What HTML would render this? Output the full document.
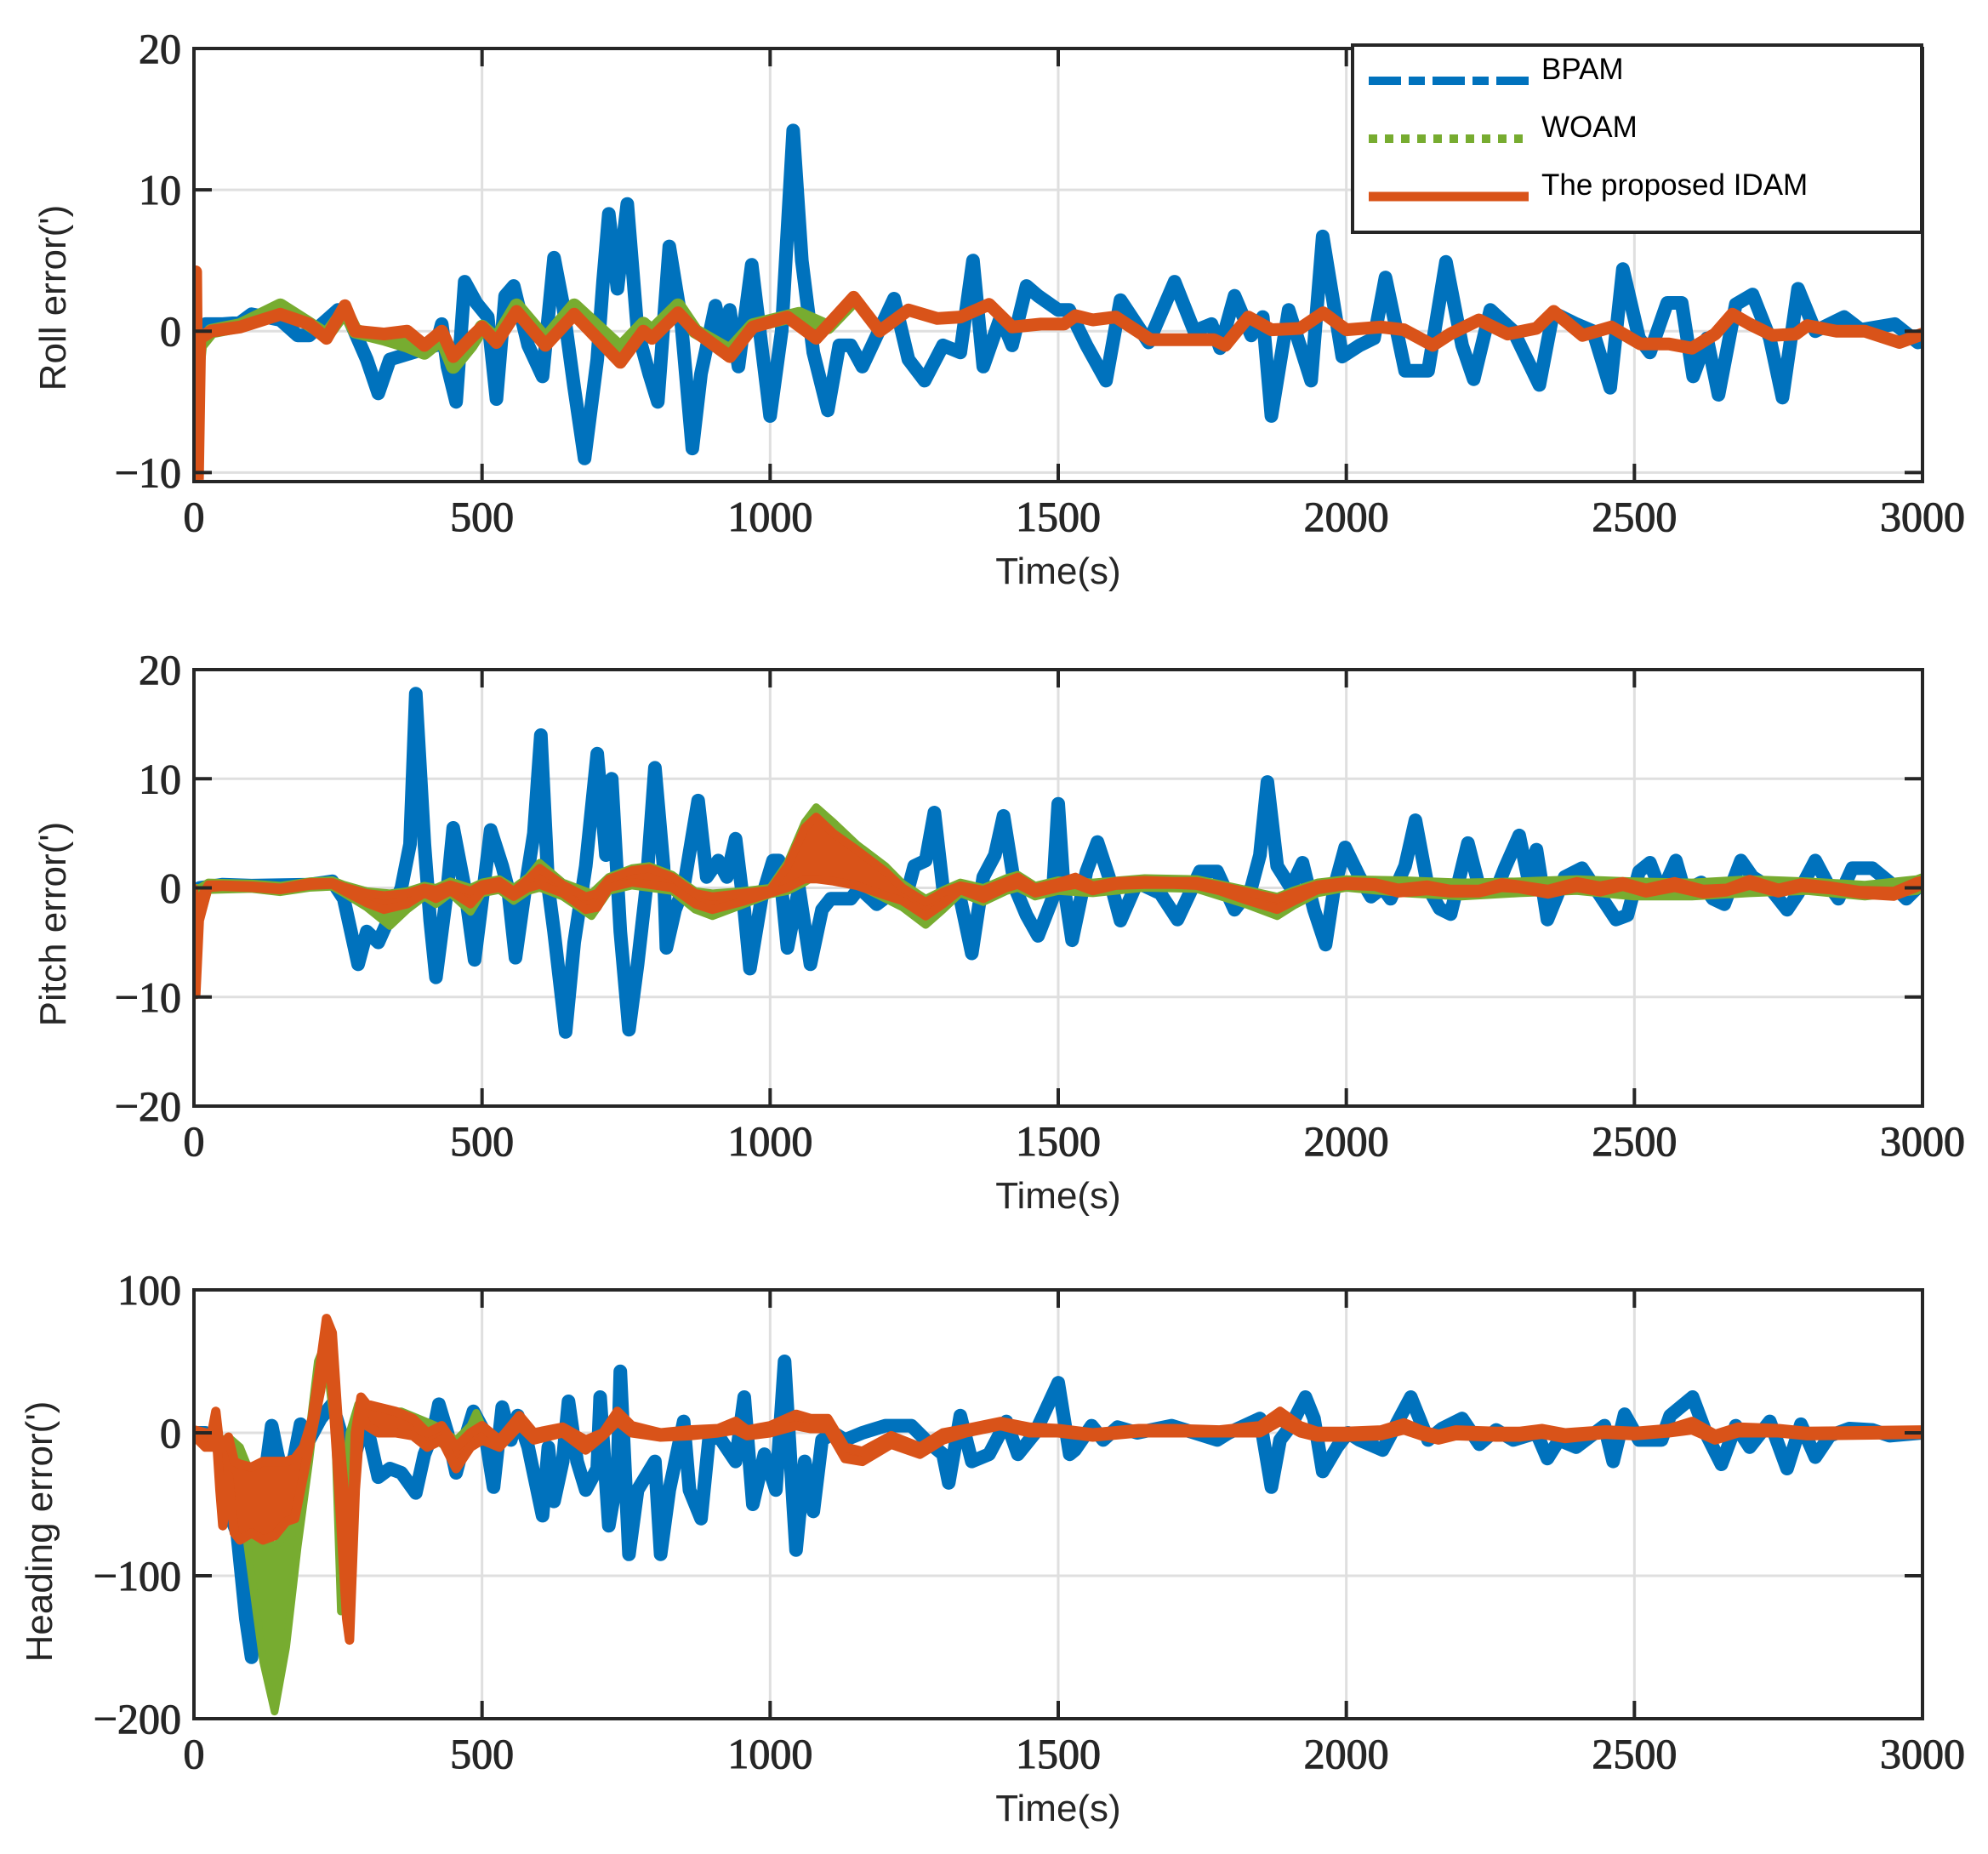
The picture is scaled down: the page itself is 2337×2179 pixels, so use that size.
<!DOCTYPE html>
<html><head><meta charset="utf-8"><style>
html,body{margin:0;padding:0;background:#fff;}
svg{display:block;}
</style></head><body>
<svg id="fig" width="2337" height="2179" viewBox="0 0 2337 2179" xmlns="http://www.w3.org/2000/svg"></svg>
<script>
// ===== Roll panel data =====
const rollBpamT=[0,20,50,80,100,150,180,200,250,270,300,320,340,380,420,430,440,455,470,490,510,525,540,555,580,605,625,640,660,678,700,710,720,735,752,770,790,805,825,845,865,880,905,920,930,945,968,985,1000,1020,1040,1055,1075,1100,1120,1140,1160,1215,1240,1268,1300,1330,1352,1370,1400,1420,1445,1465,1500,1519,1549,1583,1608,1657,1702,1736,1766,1781,1806,1835,1855,1870,1900,1939,1959,1993,2023,2048,2068,2102,2142,2173,2201,2221,2250,2290,2335,2359,2399,2428,2458,2480,2508,2527,2557,2582,2602,2626,2646,2676,2705,2735,2757,2784,2814,2864,2893,2952,2992,3000];
const rollBpam=[0,0.5,0.5,0.6,1.2,0.8,-0.3,-0.3,1.5,0.8,-2,-4.4,-2,-1.5,-1,0.5,-2.5,-5,3.5,2,1,-4.8,2.5,3.2,-1,-3.2,5.2,2,-4,-9,-2,3.5,8.3,3,9,0,-3,-5,6,1,-8.3,-3,1.8,-1,1.5,-2.5,4.7,-1,-6,0,14.2,5,-1.5,-5.6,-1,-1,-2.5,2.3,-2,-3.5,-1,-1.5,5,-2.5,1,-1,3.2,2.5,1.5,1.5,-1,-3.5,2.2,-0.8,3.5,0,0.5,-1.2,2.5,-0.3,1,-6,1.5,-3.5,6.7,-1.8,-1,-0.5,3.8,-2.8,-2.8,4.9,-1,-3.4,1.5,0,-3.8,1.3,0.5,0,-4,4.4,-0.5,-1.5,2,2,-3.2,-0.5,-4.5,1.9,2.6,-0.5,-4.7,3,0,1,0.1,0.5,-0.8,-0.5];
const rollWoamT=[0,5,10,30,80,150,200,230,262,280,330,370,400,430,450,480,500,525,560,610,660,740,780,795,840,870,930,970,1050,1100,1145];
const rollWoam=[0,-3,-1,0,0.4,1.8,0.5,-0.3,1.5,0,-0.5,-1,-1.5,-0.5,-2.5,-1,0.3,-0.6,1.8,-0.6,1.8,-1.2,0.5,0,1.8,0,-1.4,0.4,1.2,0.3,2.2];
const rollIdamT=[0,3,6,10,30,80,150,200,230,262,280,330,370,400,430,450,480,500,525,560,610,660,740,780,795,840,870,930,970,1030,1080,1145,1190,1240,1290,1330,1380,1420,1470,1510,1530,1560,1600,1660,1710,1770,1790,1830,1870,1920,1960,2000,2060,2100,2150,2180,2230,2280,2330,2360,2410,2460,2510,2560,2600,2640,2670,2700,2740,2780,2800,2850,2900,2960,3000];
const rollIdam=[0,4.2,-10.5,-0.5,0,0.3,1.2,0.5,-0.5,1.8,0,-0.2,0,-1,0,-1.8,-0.5,0.3,-0.8,1.4,-1,1.2,-2.2,0,-0.5,1.3,0,-1.8,0.3,1,-0.5,2.4,0,1.5,0.9,1,1.9,0.3,0.5,0.5,1.1,0.8,1,-0.6,-0.6,-0.6,-1,1,0.1,0.2,1.3,0.1,0.3,0.1,-1,-0.2,0.8,-0.2,0.2,1.4,-0.3,0.3,-0.9,-0.9,-1.2,-0.2,1.2,0.5,-0.3,-0.2,0.4,0,0,-0.8,-0.2];

// ===== Pitch panel data =====
const pitchBpamT=[0,10,50,100,200,240,260,285,300,320,345,360,375,385,400,410,420,440,450,470,487,505,515,535,545,558,575,590,602,615,625,645,660,680,700,715,725,740,755,770,785,800,815,820,835,850,875,890,910,925,940,955,965,985,1005,1015,1030,1050,1070,1090,1105,1125,1140,1155,1185,1210,1235,1250,1270,1285,1300,1330,1350,1370,1390,1405,1425,1445,1465,1490,1500,1509,1524,1549,1568,1588,1608,1637,1677,1707,1746,1776,1806,1835,1850,1863,1880,1904,1924,1944,1964,1979,1998,2023,2043,2063,2077,2102,2120,2142,2162,2181,2211,2231,2260,2275,2300,2315,2330,2349,2379,2409,2438,2468,2488,2508,2527,2547,2572,2587,2616,2636,2656,2685,2705,2735,2765,2784,2814,2834,2854,2878,2913,2943,2972,3000];
const pitchBpam=[-4,0,0.3,0.2,0.3,0.6,-1,-7,-4,-5,-2,0,4,17.8,4,-3,-8.2,0,5.5,0,-6.6,1,5.3,2,0,-6.4,0,5,14,0,-4,-13.2,-5,2,12.3,3,10,-4,-13,-7,0,11,2,-5.5,-2,0,8,1,2.5,1,4.5,-2,-7.4,-1,2.5,2.5,-5.5,0,-7,-2,-1,-1,-1,0,-1.5,-0.5,-1,2,2.5,6.9,0,-1,-6,1,3,6.6,0,-2.5,-4.4,-1,7.7,0.5,-4.8,1.5,4.2,1,-3,0.5,-0.5,-2.9,1.5,1.5,-2,0,3,9.7,2,0,2.3,-2,-5.2,0,3.7,1,-0.8,0,-1,2,6.2,0,-1.9,-2.4,4.1,0,-0.2,1.8,4.8,1,3.5,-2.9,1,1.8,-0.5,-2.9,-2.5,1.5,2.3,-0.5,2.5,-0.3,0.5,-1,-1.5,2.5,1,0,-2,-0.5,2.5,0.5,-1,1.8,1.8,0.5,-1,0.5];
const pitchWoamT=[0,4,10,25,100,150,200,240,260,300,340,370,400,420,445,480,500,530,555,580,600,640,690,720,760,790,830,870,900,950,1000,1030,1060,1080,1110,1150,1200,1230,1270,1300,1330,1370,1410,1430,1460,1500,1560,1650,1740,1830,1880,1910,1950,2000,2100,2200,2300,2400,2500,2600,2700,2800,2900,2990,3000];
const pitchWoamLo=[-2,-5,-3,-0.2,-0.1,-0.4,0,0.1,-0.5,-1.8,-3.5,-2,-0.8,-1.5,-0.5,-2.2,-0.5,-0.2,-1.2,-0.3,0,-0.8,-2.6,-0.3,0.2,0,-0.3,-2,-2.6,-1.6,-0.6,-0.3,0.5,1.2,0.8,0.3,-1,-1.8,-3.4,-2,-0.5,-1.3,-0.3,0,-0.8,-0.3,-0.5,0,-0.1,-1.6,-2.6,-1.6,-0.5,0,-0.5,-0.8,-0.5,-0.3,-0.8,-0.8,-0.5,-0.3,-0.8,-0.3,0];
const pitchWoamHi=[0,0,0,0.5,0.4,0.2,0.6,0.7,0.3,-0.3,-0.5,-0.3,0.2,0,0.6,0,0.5,0.8,0,1,2.3,0.5,-0.5,1,1.8,2,1.2,-0.3,-0.5,-0.3,0,2.3,6,7.4,6,4,2,0.4,-1,-0.2,0.5,0,0.9,1.2,0.2,0.7,0.5,0.9,0.8,-0.2,-0.8,-0.2,0.5,0.8,0.7,0.5,0.6,0.8,0.6,0.5,0.8,0.6,0.3,0.8,1];
const pitchIdamT=[0,4,10,25,50,100,150,200,240,260,300,330,370,400,420,445,480,500,530,555,580,600,640,680,700,720,760,790,830,870,900,950,1000,1030,1060,1080,1110,1150,1200,1230,1270,1300,1330,1370,1410,1430,1460,1500,1530,1560,1600,1650,1700,1740,1780,1830,1880,1910,1950,2000,2050,2090,2140,2180,2230,2270,2300,2350,2400,2440,2480,2520,2570,2620,2660,2700,2750,2790,2840,2890,2950,2990,3000];
const pitchIdamLo=[-1,-9.8,-3,0,0.1,0,-0.2,0.2,0.3,-0.3,-1.4,-2,-1.5,-0.5,-1,-0.3,-1.5,-0.3,0,-0.8,0,0.3,-0.5,-2,-1.8,0,0.5,0.3,0,-1.5,-2,-1.3,-0.5,0,0.8,0.8,0.6,0.2,-0.7,-1.2,-2.6,-1.5,-0.2,-1,0,0.3,-0.5,0,0.3,-0.3,0.2,0.3,0.3,0.2,-0.3,-1.2,-2,-1.2,-0.2,0.2,0.1,-0.5,-0.3,-0.5,-0.5,0,-0.1,-0.6,0,-0.4,0.1,-0.5,0,-0.6,-0.4,0.2,-0.5,0,-0.2,-0.6,-0.8,0,0.3];
const pitchIdamHi=[0,-5,-1,0.3,0.3,0.2,0,0.5,0.5,0.1,-0.5,-0.7,-0.5,0,-0.2,0.3,-0.3,0.3,0.6,-0.3,0.8,1.8,0.3,-0.8,-0.5,0.8,1.6,1.8,1,-0.5,-0.8,-0.5,-0.2,2,5.5,6.5,5,3.5,1.5,0,-1.3,-0.4,0.2,-0.2,0.6,1,0,0.5,1,0.2,0.6,0.7,0.6,0.6,0.2,-0.4,-1,-0.4,0.3,0.6,0.5,0,0.3,-0.1,-0.1,0.5,0.3,-0.1,0.6,0.2,0.6,0,0.6,-0.1,0,0.8,0,0.5,0.2,-0.2,-0.3,0.6,0.7];

// ===== Heading panel data =====
const headBpamT=[0,20,40,55,65,75,90,100,110,120,135,145,160,175,185,200,220,240,255,270,290,300,320,340,360,385,400,415,425,440,455,470,485,505,520,535,550,562,580,605,615,625,640,650,665,680,700,705,720,735,740,755,770,785,800,810,825,850,860,880,895,915,940,955,970,990,1010,1025,1040,1045,1060,1075,1090,1110,1130,1160,1200,1245,1270,1300,1310,1330,1350,1380,1410,1430,1460,1500,1520,1529,1558,1578,1603,1637,1697,1776,1796,1850,1870,1885,1904,1929,1944,1959,1984,2003,2023,2063,2112,2142,2166,2201,2231,2260,2290,2330,2349,2369,2399,2448,2463,2483,2508,2547,2562,2601,2626,2651,2676,2700,2735,2765,2789,2814,2839,2873,2913,2943,3000];
const headBpam=[0,0,-5,-30,-60,-70,-130,-157,-100,-40,5,-15,-40,-15,6,-5,10,20,0,-30,0,5,-31,-25,-28,-42,-15,0,20,0,-28,-5,15,0,-38,18,-5,12,-10,-58,-10,-48,-20,22,-20,-40,-25,25,-65,-30,43,-85,-40,-30,-20,-85,-40,8,-40,-60,0,-5,-20,25,-50,-15,-40,50,-50,-82,-20,-55,-5,0,-5,0,5,5,-5,-15,-35,12,-20,-15,8,-15,0,35,-15,-12,5,-5,4,0,5,-5,0,10,-38,-5,5,25,10,-27,-10,0,-5,-12,25,-5,3,10,-8,2,-5,0,-18,-5,-10,5,-20,13,-5,-5,12,25,-2,-22,5,-10,8,-25,6,-17,-2,3,2,-2,0];
const headWoamT=[0,20,30,38,45,50,60,80,100,120,140,160,180,200,215,230,245,255,270,285,300,330,360,390,420,455,480,490,500];
const headWoamLo=[-2,-8,-8,0,-10,-30,-10,-40,-100,-160,-195,-150,-80,-20,30,50,0,-125,-40,5,5,5,5,0,-5,-15,-5,2,-2];
const headWoamHi=[2,0,0,5,-5,-5,-3,-10,-30,-70,-80,-70,-40,0,50,65,40,-60,0,20,18,15,15,10,5,-5,5,14,5];
const headIdamT=[0,20,30,38,45,50,60,70,80,100,120,140,160,175,190,205,220,230,240,250,265,270,280,290,300,320,350,380,405,430,455,480,500,530,565,590,640,680,710,735,760,810,860,910,940,960,1000,1045,1070,1100,1130,1160,1210,1260,1300,1340,1400,1450,1500,1560,1640,1700,1780,1850,1885,1920,1950,2000,2060,2100,2130,2160,2190,2260,2300,2340,2380,2450,2500,2560,2600,2640,2680,2750,2800,3000];
const headIdamLo=[-2,-10,-10,5,-40,-65,-30,-70,-75,-70,-75,-72,-62,-60,-30,0,30,60,30,-30,-130,-145,-40,15,5,0,0,-2,-10,-5,-25,-10,-5,-10,5,-5,0,-12,-2,8,0,-3,-2,0,2,-2,0,5,3,3,-18,-20,-8,-15,-5,0,5,0,0,-3,0,0,0,0,8,0,-3,-3,-2,2,-2,-5,-2,-3,-3,-1,-4,-1,-2,0,2,-5,0,0,-2,-1];
const headIdamHi=[2,0,-2,15,-10,-10,-3,-20,-22,-24,-20,-20,-20,-18,-10,10,50,80,70,10,-60,-120,0,25,20,18,15,10,0,5,-10,0,5,-5,12,0,4,-5,0,15,5,0,2,3,8,2,5,13,10,10,-10,-13,-2,-10,0,3,8,4,3,0,3,3,2,5,15,5,1,1,2,7,2,-1,2,1,1,3,0,2,1,3,8,-1,4,3,1,2];

// ===== Axis tick labels =====
const xTicks=[0,500,1000,1500,2000,2500,3000];
const rollYTicks=[-10,0,10,20];
const pitchYTicks=[-20,-10,0,10,20];
const headYTicks=[-200,-100,0,100];
const legendLabels=["BPAM","WOAM","The proposed IDAM"];

const NS="http://www.w3.org/2000/svg";
const svg=document.getElementById('fig');
const C={blue:"#0072bd",green:"#77ac30",orange:"#d95319",ax:"#262626",grid:"#dfdfdf"};
function el(tag,attrs,parent){const e=document.createElementNS(NS,tag);for(const k in attrs)e.setAttribute(k,attrs[k]);(parent||svg).appendChild(e);return e;}

const L=228,R=2260;
const panels=[
 {key:'roll',top:57,bot:566,ymin:-10.64,ymax:20,yt:rollYTicks,label:"Roll error(')",labY:350,labX:62},
 {key:'pitch',top:787,bot:1300,ymin:-20,ymax:20,yt:pitchYTicks,label:"Pitch error(')",labY:1086,labX:62},
 {key:'head',top:1516,bot:2020,ymin:-200,ymax:100,yt:headYTicks,label:"Heading error(')",labY:1800,labX:46}
];
function fmt(v){return v<0?"\u2212"+Math.abs(v):String(v);}

panels.forEach(p=>{
 const g=el('g',{});
 
 
 const sx=t=>L+(t/3000)*(R-L);
 const sy=v=>p.bot-(v-p.ymin)/(p.ymax-p.ymin)*(p.bot-p.top);
 p.sx=sx;p.sy=sy;
 const clipId='clip-'+p.key;
 const cp=el('clipPath',{id:clipId},g);
 el('rect',{x:L,y:p.top,width:R-L,height:p.bot-p.top},cp);
 xTicks.forEach(t=>{const ln=el('line',{x1:sx(t),x2:sx(t),y1:p.top,y2:p.bot,stroke:C.grid,'stroke-width':3},g);
  
  });
 p.yt.forEach(v=>{const ln=el('line',{x1:L,x2:R,y1:sy(v),y2:sy(v),stroke:C.grid,'stroke-width':3},g);
  
  });
 p.g=g;p.clip=clipId;
});

function linePath(p,T,V){let d='';for(let i=0;i<T.length;i++){d+=(i?'L':'M')+p.sx(T[i]).toFixed(1)+','+p.sy(V[i]).toFixed(1);}return d;}
function bandPath(p,T,LO,HI){let d='';for(let i=0;i<T.length;i++){d+=(i?'L':'M')+p.sx(T[i]).toFixed(1)+','+p.sy(HI[i]).toFixed(1);}
 for(let i=T.length-1;i>=0;i--){d+='L'+p.sx(T[i]).toFixed(1)+','+p.sy(LO[i]).toFixed(1);}return d+'Z';}
function drawLine(p,T,V,color,w,name){const e=el('path',{d:linePath(p,T,V),fill:'none',stroke:color,'stroke-width':w,'stroke-linejoin':'round','stroke-linecap':'round','clip-path':'url(#'+p.clip+')'},p.g);
 
 }
function drawBand(p,T,LO,HI,color,w,name){const e=el('path',{d:bandPath(p,T,LO,HI),fill:color,stroke:color,'stroke-width':w,'stroke-linejoin':'round','clip-path':'url(#'+p.clip+')'},p.g);
 
 }

const P0=panels[0],P1=panels[1],P2=panels[2];
drawLine(P0,rollBpamT,rollBpam,C.blue,16,'roll-bpam-line');
drawLine(P0,rollWoamT,rollWoam,C.green,17,'roll-woam-line');
drawLine(P0,rollIdamT,rollIdam,C.orange,15,'roll-idam-line');
drawLine(P1,pitchBpamT,pitchBpam,C.blue,16,'pitch-bpam-line');
drawBand(P1,pitchWoamT,pitchWoamLo,pitchWoamHi,C.green,9,'pitch-woam-band');
drawBand(P1,pitchIdamT,pitchIdamLo,pitchIdamHi,C.orange,10,'pitch-idam-band');
drawLine(P2,headBpamT,headBpam,C.blue,16,'heading-bpam-line');
drawBand(P2,headWoamT,headWoamLo,headWoamHi,C.green,9,'heading-woam-band');
drawBand(P2,headIdamT,headIdamLo,headIdamHi,C.orange,11,'heading-idam-band');

panels.forEach(p=>{
 const g=p.g;
 const box=el('rect',{x:L,y:p.top,width:R-L,height:p.bot-p.top,fill:'none',stroke:C.ax,'stroke-width':4},g);
 
 
 xTicks.forEach(t=>{const x=p.sx(t);
  el('line',{x1:x,x2:x,y1:p.bot,y2:p.bot-21,stroke:C.ax,'stroke-width':4},g);
  el('line',{x1:x,x2:x,y1:p.top,y2:p.top+21,stroke:C.ax,'stroke-width':4},g);
  const tx=el('text',{x:x,y:p.bot+58,'text-anchor':'middle','font-family':'Liberation Serif, serif','font-size':50,fill:C.ax,stroke:C.ax,'stroke-width':1},g);
  tx.textContent=fmt(t);
  
  });
 p.yt.forEach(v=>{const y=p.sy(v);
  el('line',{x1:L,x2:L+21,y1:y,y2:y,stroke:C.ax,'stroke-width':4},g);
  el('line',{x1:R,x2:R-21,y1:y,y2:y,stroke:C.ax,'stroke-width':4},g);
  const tx=el('text',{x:213,y:y+17,'text-anchor':'end','font-family':'Liberation Serif, serif','font-size':50,fill:C.ax,stroke:C.ax,'stroke-width':1},g);
  tx.textContent=fmt(v);
  
  });
 const xl=el('text',{x:(L+R)/2,y:p.bot+120,'text-anchor':'middle','font-family':'Liberation Sans, sans-serif','font-size':44,fill:C.ax},g);
 xl.textContent='Time(s)';
 
 
 const yl=el('text',{x:0,y:0,'text-anchor':'middle','font-family':'Liberation Sans, sans-serif','font-size':44,fill:C.ax,transform:'translate('+(p.labX+15)+','+p.labY+') rotate(-90)'},g);
 yl.textContent=p.label;
 
 
});

// legend
const lg=el('g',{});


const lbox=el('rect',{x:1590,y:53,width:669,height:220,fill:'#fff',stroke:C.ax,'stroke-width':4},lg);


const legStyles=[{c:C.blue,w:10,dash:'38,9,19,9'},{c:C.green,w:10,dash:'10,9'},{c:C.orange,w:11,dash:''}];
const legY=[95,163,231];
legendLabels.forEach((lab,i)=>{
 const st=legStyles[i];
 const ln=el('line',{x1:1609,x2:1797,y1:legY[i],y2:legY[i],stroke:st.c,'stroke-width':st.w},lg);
 if(st.dash)ln.setAttribute('stroke-dasharray',st.dash);
 
 
 const tx=el('text',{x:1812,y:legY[i]-2,'font-family':'Liberation Sans, sans-serif','font-size':35,fill:'#000'},lg);
 tx.textContent=lab;
 
 
});
</script>
</body></html>
